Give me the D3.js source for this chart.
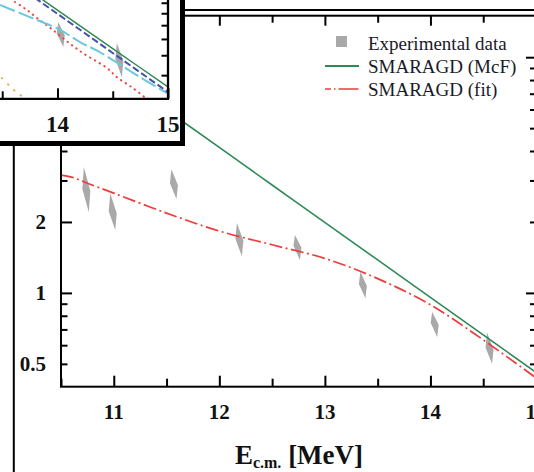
<!DOCTYPE html>
<html>
<head>
<meta charset="utf-8">
<script src="https://cdn.jsdelivr.net/npm/d3@7"></script>
<style>
  body { margin: 0; background: #fff; }
  svg { display: block; }
</style>
</head>
<body>
<svg id="fig" width="534" height="472"></svg>
<script>
// ---- main panel: measured points (energy in MeV, value with lower/upper bound)
const dataEnergy = [10.74, 10.99, 11.57, 12.19, 12.74, 13.36, 14.04, 14.56];
const dataValue  = [2.73, 2.20, 2.89, 1.68, 1.57, 1.08, 0.74, 0.58];
const dataLow    = [2.20, 1.85, 2.50, 1.43, 1.38, 0.95, 0.65, 0.50];
const dataHigh   = [3.42, 2.65, 3.35, 1.98, 1.76, 1.23, 0.83, 0.68];

// SMARAGD (McF) curve
const mcfEnergy = [10.5, 11.5, 12.5, 13.5, 14.5, 15.0];
const mcfValue  = [12.4, 5.97, 2.87, 1.38, 0.664, 0.460];

// SMARAGD (fit) curve
const fitEnergy = [10.5, 10.6, 10.75, 11.0, 11.5, 12.0, 12.5, 13.0, 13.5, 14.0, 14.5, 15.0];
const fitValue  = [3.16, 3.10, 2.92, 2.65, 2.18, 1.83, 1.60, 1.40, 1.15, 0.89, 0.632, 0.436];

// axis ticks
const xMajor = [11, 12, 13, 14, 15];
const xMinor = [10.5, 11.5, 12.5, 13.5, 14.5];
const yLabels = [0.5, 1, 2];
const yMajorLeft = [1, 2, 10];
const yMinorLeft = [0.5, 0.6, 0.7, 0.8, 0.9, 3, 4, 5, 6, 7, 8, 9];
const yMajorRight = [1, 10];
const yMinorRight = [0.5, 0.6, 0.7, 0.8, 0.9, 2, 3, 4, 5, 6, 7, 8, 9];

// legend entries
const legendLabels = ["Experimental data", "SMARAGD (McF)", "SMARAGD (fit)"];

// ---- inset panel
const insetDataEnergy = [14.03, 14.56];
const insetDataValue  = [6.31, 4.74];
const insetDataLow    = [5.48, 3.91];
const insetDataHigh   = [7.26, 5.73];

const insetGreenEnergy = [13.5, 14.0, 14.5, 15.0];
const insetGreenValue  = [12.8, 8.28, 5.38, 3.51];
const insetNavyEnergy  = [13.5, 14.0, 14.5, 15.0];
const insetNavyValue   = [12.3, 7.95, 5.13, 3.31];
const insetCyanEnergy  = [13.48, 13.706, 14.023, 14.204, 14.385, 14.747, 14.991];
const insetCyanValue   = [8.78, 7.83, 6.64, 5.79, 5.17, 3.91, 3.27];
const insetRedEnergy   = [13.615, 13.724, 13.814, 13.959, 14.095, 14.231, 14.448, 14.538, 14.683, 14.810];
const insetRedValue    = [9.08, 8.30, 7.59, 6.63, 5.79, 5.12, 4.33, 3.91, 3.46, 3.06];
const insetOrangeEnergy = [13.498, 13.570, 13.643, 13.724];
const insetOrangeValue  = [3.87, 3.53, 3.26, 3.05];

const insetXMajor = [14, 15];
const insetXMinor = [13.5, 14.5];
const insetYTicks = [4, 5, 6, 7, 8, 9];

// ---------------------------------------------------------------
const SERIF = "'Liberation Serif', 'Times New Roman', serif";
const GREEN = "#2e8b57";
const RED = "#ee3b3b";
const GREY = "#a9a9a9";

const svg = d3.select("#fig");

const x = d3.scaleLinear().domain([10.5, 15]).range([61, 536]);
const y = d3.scaleLog().domain([0.4, 15]).range([386.7, 15.7]);

const defs = svg.append("defs");
defs.append("clipPath").attr("id", "mainClip")
  .append("rect").attr("x", x(10.5)).attr("y", y(15))
  .attr("width", x(15) - x(10.5)).attr("height", y(0.4) - y(15));

const zip = (a, b) => a.map((v, i) => [v, b[i]]);
const line = d3.line().x(d => x(d[0])).y(d => y(d[1])).curve(d3.curveCatmullRom.alpha(0.5));

// diamond-shaped data marker spanning the lower/upper bound
function diamond(sx, sy, e, v, lo, hi) {
  const cx = sx(e), yt = sy(hi), ym = sy(v), yb = sy(lo);
  return `M${cx - 2.5},${yt} L${cx + 4},${ym + 1} L${cx + 2.5},${yb} L${cx - 4},${ym - 1} Z`;
}

// ---- main plot content
const plot = svg.append("g").attr("clip-path", "url(#mainClip)");

plot.selectAll("path.pt").data(dataEnergy).join("path")
  .attr("class", "pt")
  .attr("d", (e, i) => diamond(x, y, e, dataValue[i], dataLow[i], dataHigh[i]))
  .attr("fill", GREY);

plot.append("path").datum(zip(mcfEnergy, mcfValue))
  .attr("d", line).attr("fill", "none")
  .attr("stroke", GREEN).attr("stroke-width", 1.6);

plot.append("path").datum(zip(fitEnergy, fitValue))
  .attr("d", line).attr("fill", "none")
  .attr("stroke", RED).attr("stroke-width", 1.7)
  .attr("stroke-dasharray", "13,3.5,2,3.5");

// ---- frame and ticks
const axisStyle = g => {
  g.select(".domain").remove();
  g.selectAll("line").attr("stroke", "#000").attr("stroke-width", 2);
  g.selectAll("text").remove();
};

svg.append("g").attr("transform", `translate(0,${y(0.4)})`)
  .call(d3.axisBottom(x).tickValues(xMajor).tickSize(-11).tickFormat(""))
  .call(axisStyle);
svg.append("g").attr("transform", `translate(0,${y(0.4)})`)
  .call(d3.axisBottom(x).tickValues(xMinor).tickSize(-8).tickFormat(""))
  .call(axisStyle);
svg.append("g").attr("transform", `translate(0,${y(15)})`)
  .call(d3.axisTop(x).tickValues(xMajor).tickSize(-10).tickFormat(""))
  .call(axisStyle);
svg.append("g").attr("transform", `translate(0,${y(15)})`)
  .call(d3.axisTop(x).tickValues(xMinor).tickSize(-7).tickFormat(""))
  .call(axisStyle);

svg.append("g").attr("transform", `translate(${x(10.5)},0)`)
  .call(d3.axisLeft(y).tickValues(yMajorLeft).tickSize(-11).tickFormat(""))
  .call(axisStyle);
svg.append("g").attr("transform", `translate(${x(10.5)},0)`)
  .call(d3.axisLeft(y).tickValues(yMinorLeft).tickSize(-6.5).tickFormat(""))
  .call(axisStyle);
svg.append("g").attr("transform", `translate(${x(15)},0)`)
  .call(d3.axisRight(y).tickValues(yMajorRight).tickSize(-10).tickFormat(""))
  .call(axisStyle);
svg.append("g").attr("transform", `translate(${x(15)},0)`)
  .call(d3.axisRight(y).tickValues(yMinorRight).tickSize(-6).tickFormat(""))
  .call(axisStyle);

svg.append("rect")
  .attr("x", x(10.5)).attr("y", y(15))
  .attr("width", x(15) - x(10.5)).attr("height", y(0.4) - y(15))
  .attr("fill", "none").attr("stroke", "#000").attr("stroke-width", 2);

// upper rule above the frame and outer left rule
svg.append("line").attr("x1", 185).attr("x2", 534).attr("y1", 10).attr("y2", 10)
  .attr("stroke", "#000").attr("stroke-width", 2);
svg.append("line").attr("x1", 13.8).attr("x2", 13.8).attr("y1", 146).attr("y2", 472)
  .attr("stroke", "#000").attr("stroke-width", 2);

// ---- tick labels
svg.append("g").selectAll("text").data(xMajor).join("text")
  .attr("x", d => x(d)).attr("y", 419)
  .attr("text-anchor", "middle")
  .attr("font-family", SERIF).attr("font-weight", "bold").attr("font-size", 21)
  .attr("fill", "#111")
  .text(d => d);

svg.append("g").selectAll("text").data(yLabels).join("text")
  .attr("x", 46).attr("y", d => y(d) + 7)
  .attr("text-anchor", "end")
  .attr("font-family", SERIF).attr("font-weight", "bold").attr("font-size", 21)
  .attr("fill", "#111")
  .text(d => d);

// axis title
const title = svg.append("text")
  .attr("x", 299).attr("y", 464)
  .attr("text-anchor", "middle")
  .attr("font-family", SERIF).attr("font-weight", "bold").attr("fill", "#111");
title.append("tspan").attr("font-size", 27).text("E");
title.append("tspan").attr("font-size", 16).attr("dy", 4).text("c.m.");
title.append("tspan").attr("font-size", 27).attr("dy", -4).text(" [MeV]");

// ---- legend
const legend = svg.append("g");
const rowY = [50, 73, 96];
legend.selectAll("text").data(legendLabels).join("text")
  .attr("x", 368).attr("y", (d, i) => rowY[i])
  .attr("font-family", SERIF).attr("font-size", 19).attr("fill", "#1a1a2a")
  .text(d => d);
legend.append("rect").attr("x", 336).attr("y", 36).attr("width", 11).attr("height", 11)
  .attr("fill", GREY);
legend.append("line").attr("x1", 325).attr("x2", 359).attr("y1", 66).attr("y2", 66)
  .attr("stroke", GREEN).attr("stroke-width", 2);
legend.append("line").attr("x1", 325).attr("x2", 359).attr("y1", 89).attr("y2", 89)
  .attr("stroke", RED).attr("stroke-width", 1.5)
  .attr("stroke-dasharray", "6,3,1.5,3,20");

// ---- inset panel
const ix = d3.scaleLinear().domain([13.48, 15]).range([0, 168]);
const iy = d3.scaleLog().domain([3.07, 9.28]).range([98.8, 0]);
const iline = d3.line().x(d => ix(d[0])).y(d => iy(d[1])).curve(d3.curveCatmullRom.alpha(0.5));

const inset = svg.append("g");
inset.append("rect").attr("x", 0).attr("y", 0).attr("width", 185).attr("height", 146)
  .attr("fill", "#fff");

defs.append("clipPath").attr("id", "insetClip")
  .append("rect").attr("x", 0).attr("y", 0).attr("width", 168).attr("height", 98.8);

const ip = inset.append("g").attr("clip-path", "url(#insetClip)");

ip.selectAll("path.pt").data(insetDataEnergy).join("path")
  .attr("class", "pt")
  .attr("d", (e, i) => diamond(ix, iy, e, insetDataValue[i], insetDataLow[i], insetDataHigh[i]))
  .attr("fill", GREY);

ip.append("path").datum(zip(insetOrangeEnergy, insetOrangeValue))
  .attr("d", iline).attr("fill", "none")
  .attr("stroke", "#f5a54a").attr("stroke-width", 2).attr("stroke-linecap", "round")
  .attr("stroke-dasharray", "0.5,8");
ip.append("path").datum(zip(insetRedEnergy, insetRedValue))
  .attr("d", iline).attr("fill", "none")
  .attr("stroke", "#f04545").attr("stroke-width", 2).attr("stroke-linecap", "round")
  .attr("stroke-dasharray", "0.5,5");
ip.append("path").datum(zip(insetCyanEnergy, insetCyanValue))
  .attr("d", iline).attr("fill", "none")
  .attr("stroke", "#6cc8dc").attr("stroke-width", 2)
  .attr("stroke-dasharray", "16,4");
ip.append("path").datum(zip(insetNavyEnergy, insetNavyValue))
  .attr("d", iline).attr("fill", "none")
  .attr("stroke", "#4b4fa8").attr("stroke-width", 2)
  .attr("stroke-dasharray", "7,3");
ip.append("path").datum(zip(insetGreenEnergy, insetGreenValue))
  .attr("d", iline).attr("fill", "none")
  .attr("stroke", GREEN).attr("stroke-width", 1.5);

// inset axes
inset.append("g").attr("transform", `translate(0,${iy(3.07)})`)
  .call(d3.axisBottom(ix).tickValues(insetXMajor).tickSize(-10.5).tickFormat(""))
  .call(axisStyle);
inset.append("g").attr("transform", `translate(0,${iy(3.07)})`)
  .call(d3.axisBottom(ix).tickValues(insetXMinor).tickSize(-7.5).tickFormat(""))
  .call(axisStyle);
inset.append("g").attr("transform", `translate(${ix(15)},0)`)
  .call(d3.axisRight(iy).tickValues(insetYTicks).tickSize(-6.5).tickFormat(""))
  .call(axisStyle);
inset.append("line").attr("x1", 0).attr("x2", ix(15) + 1).attr("y1", iy(3.07)).attr("y2", iy(3.07))
  .attr("stroke", "#000").attr("stroke-width", 2.3);
inset.append("line").attr("x1", ix(15)).attr("x2", ix(15)).attr("y1", 0).attr("y2", iy(3.07))
  .attr("stroke", "#000").attr("stroke-width", 2.3);

inset.append("g").selectAll("text").data(insetXMajor).join("text")
  .attr("x", d => ix(d)).attr("y", 132)
  .attr("text-anchor", "middle")
  .attr("font-family", SERIF).attr("font-weight", "bold").attr("font-size", 23)
  .attr("fill", "#111")
  .text(d => d);

// inset border
inset.append("path")
  .attr("d", "M182.5,0 L182.5,143.5 L0,143.5")
  .attr("fill", "none").attr("stroke", "#000").attr("stroke-width", 5);
</script>
</body>
</html>
